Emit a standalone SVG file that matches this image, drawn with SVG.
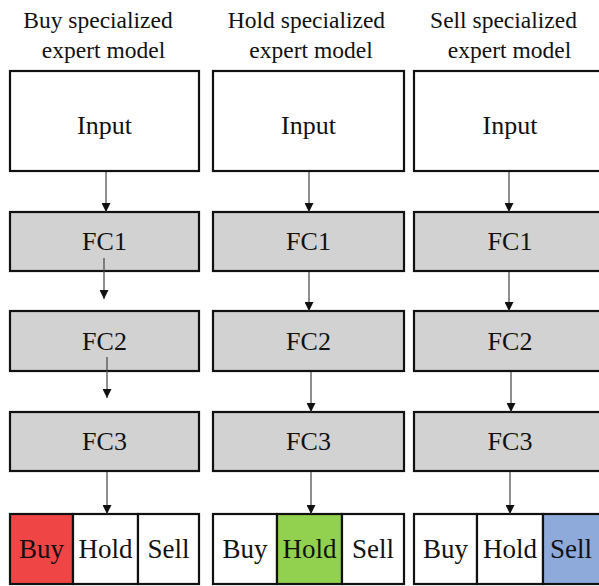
<svg xmlns="http://www.w3.org/2000/svg" width="599" height="586" viewBox="0 0 599 586">
<style>
text{font-family:"Liberation Serif","Times New Roman",serif;fill:#111;text-anchor:middle}
.t{font-size:23.5px}
.b{fill:#fff;stroke:#111;stroke-width:2.2}
.g{fill:#d2d2d2;stroke:#111;stroke-width:2.2}
.lbl{font-size:26px}
.o{font-size:27px}
.a{stroke:#444;stroke-width:1.2;fill:none;marker-end:url(#ah)}
</style>
<defs>
<marker id="ah" markerUnits="userSpaceOnUse" markerWidth="10" markerHeight="9" refX="9" refY="4.5" orient="auto" viewBox="0 0 9 9">
<path d="M0,0 L9,4.5 L0,9 Z" fill="#111"/>
</marker>
</defs>
<rect width="599" height="586" fill="#fff"/>
<g id="titles">
<text class="t" x="98" y="28">Buy specialized</text>
<text class="t" x="103.5" y="58">expert model</text>
<text class="t" x="306.5" y="28">Hold specialized</text>
<text class="t" x="311" y="58">expert model</text>
<text class="t" x="503.5" y="28">Sell specialized</text>
<text class="t" x="509.5" y="58">expert model</text>
</g>
<g id="input1"><rect class="b" x="10" y="71" width="189" height="100"/><text class="lbl" x="104.5" y="134">Input</text></g>
<g id="input2"><rect class="b" x="213" y="71" width="191" height="100"/><text class="lbl" x="308.5" y="134">Input</text></g>
<g id="input3"><rect class="b" x="414" y="71" width="192" height="100"/><text class="lbl" x="510" y="134">Input</text></g>
<g id="fc1a"><rect class="g" x="10" y="212" width="189" height="59"/><text class="lbl" x="104.5" y="250">FC1</text></g>
<g id="fc1b"><rect class="g" x="213" y="212" width="191" height="59"/><text class="lbl" x="308.5" y="250">FC1</text></g>
<g id="fc1c"><rect class="g" x="414" y="212" width="192" height="59"/><text class="lbl" x="510" y="250">FC1</text></g>
<g id="fc2a"><rect class="g" x="10" y="311" width="189" height="60"/><text class="lbl" x="104.5" y="350">FC2</text></g>
<g id="fc2b"><rect class="g" x="213" y="311" width="191" height="60"/><text class="lbl" x="308.5" y="350">FC2</text></g>
<g id="fc2c"><rect class="g" x="414" y="311" width="192" height="60"/><text class="lbl" x="510" y="350">FC2</text></g>
<g id="fc3a"><rect class="g" x="10" y="412" width="189" height="59"/><text class="lbl" x="104.5" y="450">FC3</text></g>
<g id="fc3b"><rect class="g" x="213" y="412" width="191" height="59"/><text class="lbl" x="308.5" y="450">FC3</text></g>
<g id="fc3c"><rect class="g" x="414" y="412" width="192" height="59"/><text class="lbl" x="510" y="450">FC3</text></g>
<g id="out1">
<rect class="b" x="10" y="514" width="63" height="70" style="fill:#f04545"/><text class="o" x="41.5" y="558">Buy</text>
<rect class="b" x="73" y="514" width="65" height="70"/><text class="o" x="105.5" y="558">Hold</text>
<rect class="b" x="138" y="514" width="61" height="70"/><text class="o" x="168.5" y="558">Sell</text>
</g>
<g id="out2">
<rect class="b" x="213" y="514" width="64" height="70"/><text class="o" x="245" y="558">Buy</text>
<rect class="b" x="277" y="514" width="65" height="70" style="fill:#92d050"/><text class="o" x="309.5" y="558">Hold</text>
<rect class="b" x="342" y="514" width="62" height="70"/><text class="o" x="373" y="558">Sell</text>
</g>
<g id="out3">
<rect class="b" x="414" y="514" width="63" height="70"/><text class="o" x="445.5" y="558">Buy</text>
<rect class="b" x="477" y="514" width="66" height="70"/><text class="o" x="510" y="558">Hold</text>
<rect class="b" x="543" y="514" width="63" height="70" style="fill:#8eaadb"/><text class="o" x="571" y="558">Sell</text>
</g>
<g id="connectors">
<line class="a" x1="106" y1="172" x2="106" y2="212"/>
<line class="a" x1="104" y1="258" x2="104" y2="299"/>
<line class="a" x1="107" y1="357" x2="107" y2="398"/>
<line class="a" x1="107" y1="472" x2="107" y2="514"/>
<line class="a" x1="309" y1="172" x2="309" y2="212"/>
<line class="a" x1="309" y1="272" x2="309" y2="311"/>
<line class="a" x1="311" y1="372" x2="311" y2="412"/>
<line class="a" x1="311" y1="472" x2="311" y2="514"/>
<line class="a" x1="509" y1="172" x2="509" y2="212"/>
<line class="a" x1="509" y1="272" x2="509" y2="311"/>
<line class="a" x1="511" y1="372" x2="511" y2="412"/>
<line class="a" x1="510" y1="472" x2="510" y2="514"/>
</g>
</svg>
